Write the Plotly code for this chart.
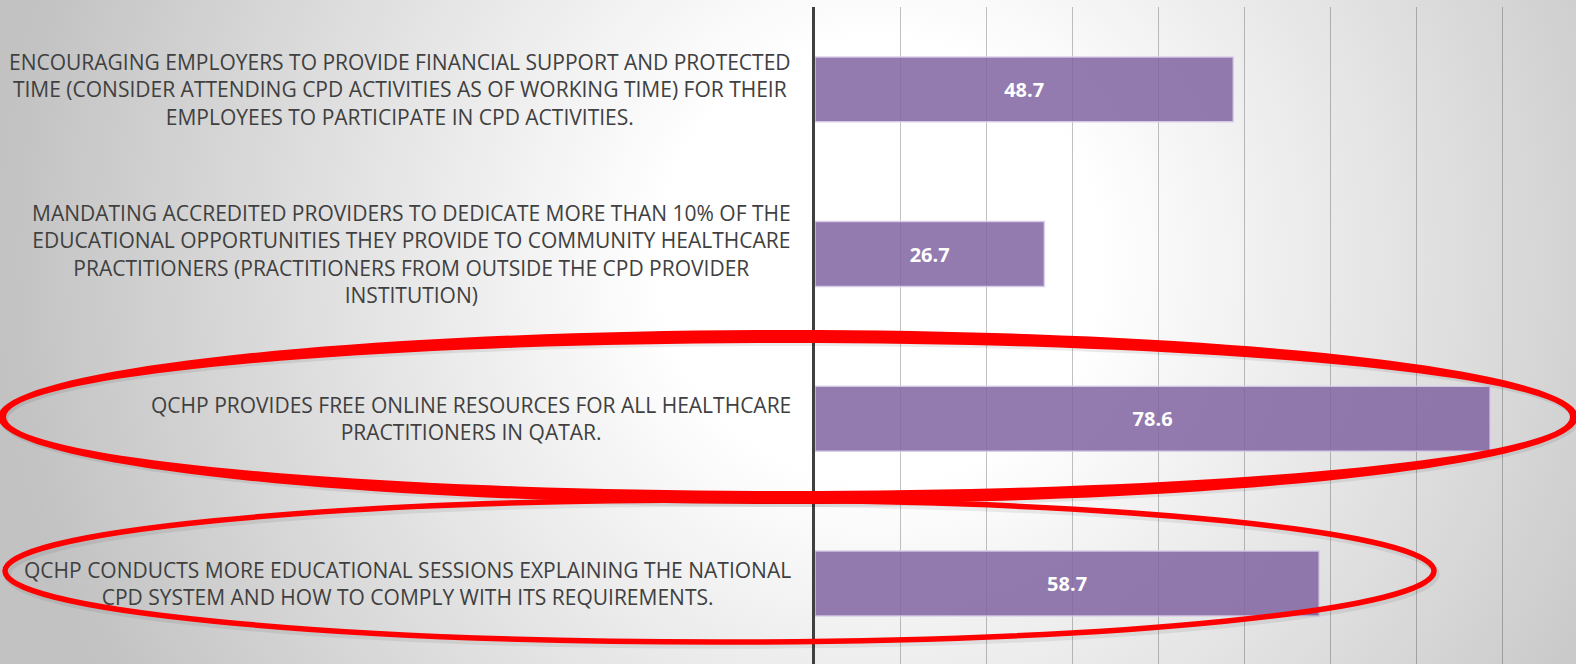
import base64
import math
import plotly.graph_objects as go

# ---- data ----
categories = [
    "ENCOURAGING EMPLOYERS TO PROVIDE FINANCIAL SUPPORT AND PROTECTED<br>TIME (CONSIDER ATTENDING CPD ACTIVITIES AS OF WORKING TIME) FOR THEIR<br>EMPLOYEES TO PARTICIPATE IN CPD ACTIVITIES.",
    "MANDATING ACCREDITED PROVIDERS TO DEDICATE MORE THAN 10% OF THE<br>EDUCATIONAL OPPORTUNITIES THEY PROVIDE TO COMMUNITY HEALTHCARE<br>PRACTITIONERS (PRACTITIONERS FROM OUTSIDE THE CPD PROVIDER<br>INSTITUTION)",
    "QCHP PROVIDES FREE ONLINE RESOURCES FOR ALL HEALTHCARE<br>PRACTITIONERS IN QATAR.",
    "QCHP CONDUCTS MORE EDUCATIONAL SESSIONS EXPLAINING THE NATIONAL<br>CPD SYSTEM AND HOW TO COMPLY WITH ITS REQUIREMENTS.",
]
values = [48.7, 26.7, 78.6, 58.7]
value_labels = ["48.7", "26.7", "78.6", "58.7"]

# ---- layout geometry (pixels) ----
W, H = 1576, 664
ML, MR, MT, MB = 815, 0, 7, 0
PW, PH = W - ML - MR, H - MT - MB


def px(x):
    return (x - ML) / PW


def py(y):
    return (H - MB - y) / PH


# background radial gradient
svg = f'''<svg xmlns="http://www.w3.org/2000/svg" width="{W}" height="{H}" viewBox="0 0 {W} {H}">
<defs><radialGradient id="g" gradientUnits="userSpaceOnUse" cx="880" cy="260" r="880">
<stop offset="0" stop-color="#ffffff"/><stop offset="0.25" stop-color="#ffffff"/>
<stop offset="1" stop-color="#c2c2c2"/></radialGradient></defs>
<rect width="{W}" height="{H}" fill="url(#g)"/></svg>'''
src = "data:image/svg+xml;base64," + base64.b64encode(svg.encode()).decode()

FONT = "Open Sans, sans-serif"

fig = go.Figure()
fig.add_trace(go.Bar(
    x=values, y=categories, orientation="h",
    width=0.394,
    marker=dict(color="rgba(128,100,162,0.85)",
                line=dict(color="rgba(215,205,232,0.9)", width=1.5)),
    text=value_labels, textposition="inside", insidetextanchor="middle",
    textfont=dict(family=FONT, size=20, color="white", weight="bold"),
    hoverinfo="skip",
))

annotations = []
for c in categories:
    annotations.append(dict(
        x=px(793), xref="paper", y=c, yref="y", xanchor="right", yanchor="middle",
        text=c, showarrow=False, align="center",
        font=dict(family=FONT, size=21, color="#404040"),
    ))


def ring_path(cx, cy, ao, bo, ai, bi, dx=0, dy=0, n=160):
    parts = []
    for a, b in ((ao, bo), (ai, bi)):
        pts = []
        for k in range(n):
            t = 2 * math.pi * k / n
            X = cx + dx + a * math.cos(t)
            Y = cy + dy + b * math.sin(t)
            pts.append(f"{px(X):.5f},{py(Y):.5f}")
        parts.append("M" + " L".join(pts) + " Z")
    return " ".join(parts)


shapes = []
# thick ellipse (variable stroke: thin ends, thick top/bottom)
cx1, cy1 = 788, 417
shapes.append(dict(type="path", xref="paper", yref="paper",
                   path=ring_path(cx1, cy1, 790, 87, 782, 74, dx=2, dy=3),
                   fillcolor="rgba(0,0,0,0.08)", line=dict(width=0), fillrule="evenodd"))
shapes.append(dict(type="path", xref="paper", yref="paper",
                   path=ring_path(cx1, cy1, 790, 87, 782, 74),
                   fillcolor="#ff0000", line=dict(width=0), fillrule="evenodd"))

# thinner ellipse
def ellipse(x0, y0, x1, y1, w):
    shapes.append(dict(type="circle", xref="paper", yref="paper",
                       x0=px(x0 + 2), x1=px(x1 + 2), y0=py(y1 + 3), y1=py(y0 + 3),
                       line=dict(color="rgba(0,0,0,0.07)", width=w + 2), layer="above"))
    shapes.append(dict(type="circle", xref="paper", yref="paper",
                       x0=px(x0), x1=px(x1), y0=py(y1), y1=py(y0),
                       line=dict(color="#ff0000", width=w), layer="above"))

ellipse(5, 500, 1434, 642, 5.5)

fig.update_layout(
    width=W, height=H,
    margin=dict(l=ML, r=MR, t=MT, b=MB, pad=0),
    paper_bgcolor="rgba(0,0,0,0)", plot_bgcolor="rgba(0,0,0,0)",
    showlegend=False,
    xaxis=dict(range=[0, 88.6], dtick=10, tick0=0, showticklabels=False, ticks="",
               showgrid=True, gridcolor="rgba(0,0,0,0.24)", gridwidth=1,
               zeroline=False, showline=False, fixedrange=True),
    yaxis=dict(categoryorder="array", categoryarray=categories,
               range=[3.489, -0.5], showticklabels=False, ticks="", showgrid=False,
               showline=True, linecolor="#404040", linewidth=3, zeroline=False, fixedrange=True),
    images=[dict(source=src, xref="paper", yref="paper",
                 x=px(0), y=py(0), sizex=W / PW, sizey=H / PH,
                 xanchor="left", yanchor="top", sizing="stretch", layer="below")],
    annotations=annotations,
    shapes=shapes,
)

fig.write_html("out.html", config={"displayModeBar": False},
               post_script="document.body.style.margin='0';document.body.style.overflow='hidden';")
